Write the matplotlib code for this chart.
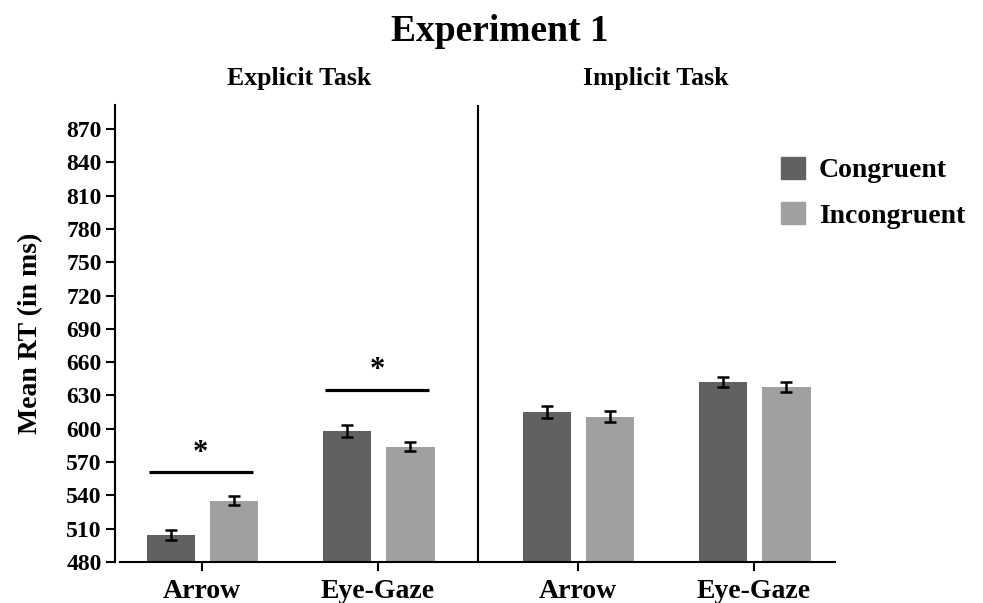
import numpy as np
import matplotlib.pyplot as plt
from matplotlib.patches import Patch

plt.rcParams['font.family'] = ['Liberation Serif', 'DejaVu Serif']
plt.rcParams['font.weight'] = 'bold'
plt.rcParams['axes.labelweight'] = 'bold'

# data (mean RT in ms)
categories = ["Arrow", "Eye-Gaze", "Arrow", "Eye-Gaze"]
tasks = ["Explicit Task", "Implicit Task"]
congruent = [504, 598, 615, 642]
incongruent = [535, 584, 611, 638]
cong_err = [4.5, 5.4, 5.3, 4.5]
incong_err = [4.0, 4.0, 5.3, 4.5]
sig_pairs = [0, 1]              # explicit arrow, explicit eye-gaze
sig_heights = [561, 635]
yticks = list(range(480, 871, 30))

C_DARK = "#616161"
C_LIGHT = "#a0a0a0"

x = np.array([0, 1, 2.133, 3.133])
w = 0.275
off_c, off_i = -0.175, 0.183

fig = plt.figure(figsize=(9.83, 6.03), dpi=100)
ax = fig.add_axes([115/983, 1-562/603, 720/983, 457/603])

ekw = dict(elinewidth=1.8, capthick=1.8, capsize=4.5, ecolor="black")
ax.bar(x + off_c, congruent, w, color=C_DARK, yerr=cong_err, error_kw=ekw, zorder=2)
ax.bar(x + off_i, incongruent, w, color=C_LIGHT, yerr=incong_err, error_kw=ekw, zorder=2)

# significance bars
for i, h in zip(sig_pairs, sig_heights):
    lo = x[i] - 0.30
    hi = x[i] + 0.29
    ax.plot([lo, hi], [h, h], color="black", lw=2.3, solid_capstyle="butt")
    ax.text((lo + hi)/2, h + 4, "*", ha="center", va="bottom", fontsize=22)

ax.axvline(1.567, color="black", lw=1.5)

ax.set_xlim(-0.492, 3.592)
ax.set_ylim(480, 891.6)
ax.set_yticks(yticks)
ax.set_xticks(x)
ax.set_xticklabels(categories, fontsize=20)
ax.tick_params(axis="y", labelsize=17, width=1.5, length=6.5, pad=3)
ax.tick_params(axis="x", width=1.5, length=6.5, pad=6)
for s in ["top", "right"]:
    ax.spines[s].set_visible(False)
for s in ["left", "bottom"]:
    ax.spines[s].set_linewidth(1.5)
ax.spines["bottom"].set_bounds(-0.463, 3.592)
ax.set_ylabel("Mean RT (in ms)", fontsize=20)
ax.yaxis.set_label_coords(-0.1, 0.5)

fig.text(0.508, 0.948, "Experiment 1", ha="center", va="center", fontsize=27)
fig.text(299/983, 1-78/603, tasks[0], ha="center", va="center", fontsize=18.5)
fig.text(656/983, 1-78/603, tasks[1], ha="center", va="center", fontsize=18.5)

handles = [Patch(color=C_DARK, label="Congruent"), Patch(color=C_LIGHT, label="Incongruent")]
fig.legend(handles=handles, loc="upper left", bbox_to_anchor=(767/983, 1-143/603),
           frameon=False, fontsize=20, borderpad=0, handlelength=0.86,
           handleheight=0.82, handletextpad=0.5, labelspacing=0.68)

fig.savefig("out.png", dpi=100)
